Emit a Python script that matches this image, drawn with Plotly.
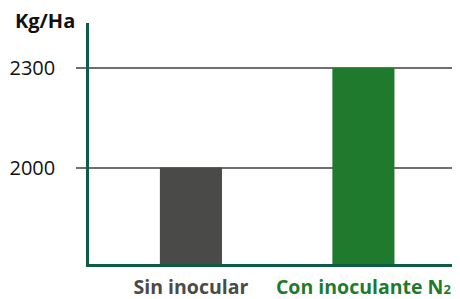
import plotly.graph_objects as go

categories = ["Sin inocular", 'Con inoculante N<span style="font-size:13px">2</span>']
values = [2000, 2300]
bar_colors = ["#4a4a48", "#1f7a2d"]
label_colors = ["#4a4a48", "#1f7a2d"]
y_ticks = [2000, 2300]
y_title = "Kg/Ha"

x_pos = list(range(len(categories)))
ticktext = [f'<span style="color:{c}"><b>{t}</b></span>' for t, c in zip(categories, label_colors)]

fig = go.Figure(go.Bar(x=x_pos, y=values, marker=dict(color=bar_colors, line=dict(width=0)),
                       width=0.36))

# page body has an 8px margin, so the figure is sized to the visible area
fig.update_layout(
    width=452, height=291,
    margin=dict(l=81, r=0, t=15, b=34.5, autoexpand=False),
    paper_bgcolor="white", plot_bgcolor="white",
    showlegend=False,
    font=dict(family="Open Sans", size=19.5, color="#222"),
    annotations=[dict(text=f"<b>{y_title}</b>", xref="paper", yref="paper",
                      x=-0.205, y=1.012, xanchor="left", yanchor="middle",
                      showarrow=False, font=dict(size=20, color="#111"))],
)
fig.update_xaxes(range=[-0.591, 1.56], tickvals=x_pos, ticktext=ticktext,
                 showline=True, linecolor="#0e5c45", linewidth=2.5,
                 showgrid=False, ticks="", tickfont=dict(size=19.5), automargin=False,
                 ticklabelstandoff=4)
fig.update_yaxes(range=[1710, 2435], tickvals=y_ticks, showgrid=True,
                 gridcolor="#6e6e6e", gridwidth=1.5,
                 showline=True, linecolor="#0e5c45", linewidth=2.5,
                 ticks="outside", ticklen=10, tickcolor="#6e6e6e", tickwidth=1.5,
                 ticklabelstandoff=17, zeroline=False, automargin=False,
                 tickfont=dict(size=20, color="#111"))
fig.write_html("out.html")
